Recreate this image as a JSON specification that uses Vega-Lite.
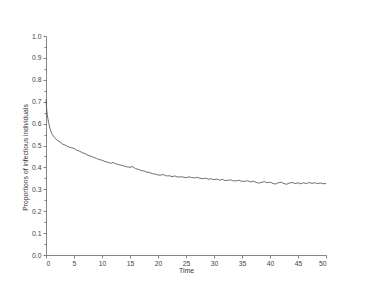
{
  "$schema": "https://vega.github.io/schema/vega-lite/v6.json",
  "width": 280,
  "height": 219,
  "autosize": {"type": "none"},
  "padding": {"left": 46, "top": 36, "right": 48, "bottom": 36},
  "background": "white",
  "config": {
    "view": {"stroke": null},
    "axis": {
      "labelFont": "Liberation Sans",
      "titleFont": "Liberation Sans",
      "labelFontSize": 6.8,
      "titleFontSize": 6.8,
      "titleFontWeight": "normal",
      "labelColor": "#444",
      "titleColor": "#333",
      "domainColor": "#666",
      "tickColor": "#666",
      "domainWidth": 0.8,
      "tickWidth": 0.8,
      "grid": false
    }
  },
  "data": {
    "values": [
      {"t": 0, "v": 0.71}, {"t": 0.1, "v": 0.67}, {"t": 0.25, "v": 0.635}, {"t": 0.5, "v": 0.6}, {"t": 0.75, "v": 0.575},
      {"t": 1, "v": 0.555}, {"t": 1.5, "v": 0.537}, {"t": 2, "v": 0.524}, {"t": 2.5, "v": 0.516}, {"t": 3, "v": 0.506},
      {"t": 3.5, "v": 0.501}, {"t": 4, "v": 0.494}, {"t": 4.5, "v": 0.49}, {"t": 5, "v": 0.487}, {"t": 5.5, "v": 0.478},
      {"t": 6, "v": 0.474}, {"t": 6.5, "v": 0.467}, {"t": 7, "v": 0.463}, {"t": 7.5, "v": 0.455}, {"t": 8, "v": 0.451},
      {"t": 8.5, "v": 0.446}, {"t": 9, "v": 0.441}, {"t": 9.5, "v": 0.436}, {"t": 10, "v": 0.433}, {"t": 10.5, "v": 0.427},
      {"t": 11, "v": 0.424}, {"t": 11.5, "v": 0.419}, {"t": 12, "v": 0.422}, {"t": 12.5, "v": 0.416}, {"t": 13, "v": 0.413},
      {"t": 13.5, "v": 0.409}, {"t": 14, "v": 0.406}, {"t": 14.5, "v": 0.402}, {"t": 15, "v": 0.401}, {"t": 15.5, "v": 0.403},
      {"t": 16, "v": 0.394}, {"t": 16.5, "v": 0.391}, {"t": 17, "v": 0.385}, {"t": 17.5, "v": 0.384}, {"t": 18, "v": 0.378},
      {"t": 18.5, "v": 0.377}, {"t": 19, "v": 0.371}, {"t": 19.5, "v": 0.37}, {"t": 20, "v": 0.365}, {"t": 20.5, "v": 0.365},
      {"t": 21, "v": 0.367}, {"t": 21.5, "v": 0.361}, {"t": 22, "v": 0.362}, {"t": 22.5, "v": 0.358}, {"t": 23, "v": 0.361},
      {"t": 23.5, "v": 0.356}, {"t": 24, "v": 0.357}, {"t": 24.5, "v": 0.356}, {"t": 25, "v": 0.353}, {"t": 25.5, "v": 0.357},
      {"t": 26, "v": 0.354}, {"t": 26.5, "v": 0.352}, {"t": 27, "v": 0.355}, {"t": 27.5, "v": 0.35}, {"t": 28, "v": 0.349},
      {"t": 28.5, "v": 0.351}, {"t": 29, "v": 0.346}, {"t": 29.5, "v": 0.348}, {"t": 30, "v": 0.344}, {"t": 30.5, "v": 0.347},
      {"t": 31, "v": 0.342}, {"t": 31.5, "v": 0.345}, {"t": 32, "v": 0.34}, {"t": 32.5, "v": 0.341}, {"t": 33, "v": 0.343},
      {"t": 33.5, "v": 0.338}, {"t": 34, "v": 0.339}, {"t": 34.5, "v": 0.341}, {"t": 35, "v": 0.336}, {"t": 35.5, "v": 0.337},
      {"t": 36, "v": 0.339}, {"t": 36.5, "v": 0.334}, {"t": 37, "v": 0.337}, {"t": 37.5, "v": 0.332}, {"t": 38, "v": 0.328},
      {"t": 38.5, "v": 0.332}, {"t": 39, "v": 0.335}, {"t": 39.5, "v": 0.33}, {"t": 40, "v": 0.333}, {"t": 40.5, "v": 0.327},
      {"t": 41, "v": 0.324}, {"t": 41.5, "v": 0.33}, {"t": 42, "v": 0.332}, {"t": 42.5, "v": 0.326}, {"t": 43, "v": 0.323},
      {"t": 43.5, "v": 0.329}, {"t": 44, "v": 0.331}, {"t": 44.5, "v": 0.326}, {"t": 45, "v": 0.33}, {"t": 45.5, "v": 0.325},
      {"t": 46, "v": 0.33}, {"t": 46.5, "v": 0.326}, {"t": 47, "v": 0.331}, {"t": 47.5, "v": 0.327}, {"t": 48, "v": 0.33},
      {"t": 48.5, "v": 0.326}, {"t": 49, "v": 0.329}, {"t": 49.5, "v": 0.325}, {"t": 50, "v": 0.327}
    ]
  },
  "mark": {"type": "line", "color": "#4a4a4a", "strokeWidth": 0.8, "interpolate": "linear"},
  "encoding": {
    "x": {
      "field": "t",
      "type": "quantitative",
      "scale": {"domain": [0, 50], "nice": false, "zero": false},
      "axis": {
        "title": "Time",
        "values": [0, 5, 10, 15, 20, 25, 30, 35, 40, 45, 50],
        "tickSize": 3,
        "labelPadding": 2,
        "titlePadding": 1
      }
    },
    "y": {
      "field": "v",
      "type": "quantitative",
      "scale": {"domain": [0, 1], "nice": false},
      "axis": {
        "title": "Proportions of infectious individuals",
        "values": [0, 0.05, 0.1, 0.15, 0.2, 0.25, 0.3, 0.35, 0.4, 0.45, 0.5, 0.55, 0.6, 0.65, 0.7, 0.75, 0.8, 0.85, 0.9, 0.95, 1],
        "labelExpr": "abs(round(datum.value*20)%2) == 0 ? format(datum.value, '.1f') : ''",
        "tickSize": {"condition": {"test": "abs(round(datum.value*20)%2) == 0", "value": 3}, "value": 2},
        "labelPadding": 2,
        "titlePadding": 3,
        "titleY": 121
      }
    }
  }
}
